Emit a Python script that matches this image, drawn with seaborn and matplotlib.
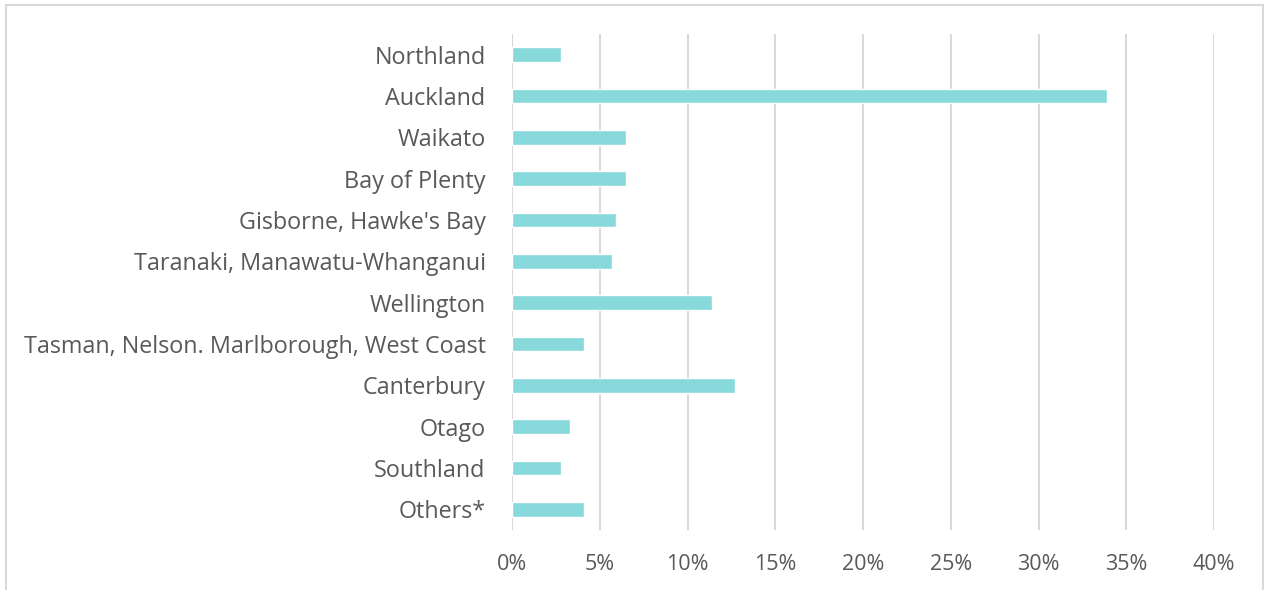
import seaborn as sns
import matplotlib.pyplot as plt
import pandas as pd
from matplotlib.patches import Rectangle
from matplotlib.ticker import PercentFormatter

regions = ["Northland", "Auckland", "Waikato", "Bay of Plenty", "Gisborne, Hawke's Bay",
           "Taranaki, Manawatu-Whanganui", "Wellington", "Tasman, Nelson. Marlborough, West Coast",
           "Canterbury", "Otago", "Southland", "Others*"]
share = [2.8, 33.9, 6.5, 6.5, 5.9, 5.7, 11.4, 4.1, 12.7, 3.3, 2.8, 4.1]
x_ticks = [0, 5, 10, 15, 20, 25, 30, 35, 40]

df = pd.DataFrame({"Region": regions, "Share": share})

sns.set_style("white")
plt.rcParams['font.family'] = ['Open Sans', 'DejaVu Sans']

fig = plt.figure(figsize=(12.65, 5.9), dpi=100)
ax = fig.add_axes([512 / 1265, 1 - 530 / 590, (1214 - 512) / 1265, 496 / 590])

sns.barplot(data=df, x="Share", y="Region", orient="h", color="#87D9DC",
            saturation=1, width=0.36, ax=ax)

ax.set_xlim(0, 40)
ax.set_xticks(x_ticks)
ax.xaxis.set_major_formatter(PercentFormatter(decimals=0))
ax.grid(axis="x", color="#D9D9D9", linewidth=1.5)
ax.set_axisbelow(True)
ax.set_xlabel("")
ax.set_ylabel("")
ax.tick_params(axis="both", length=0, labelcolor="#595959")
ax.tick_params(axis="x", pad=17, labelsize=15.5)
ax.tick_params(axis="y", pad=19, labelsize=16.8)
for lbl in ax.get_yticklabels():
    lbl.set_va("center_baseline")
sns.despine(ax=ax, left=True, bottom=True)

# outer chart border
fig.patches.append(Rectangle((6 / 1265, -0.05), 1257 / 1265, 1.05 - 5 / 590,
                             transform=fig.transFigure, fill=False,
                             edgecolor="#D9D9D9", linewidth=1.5))

fig.savefig("out.png", dpi=100)
